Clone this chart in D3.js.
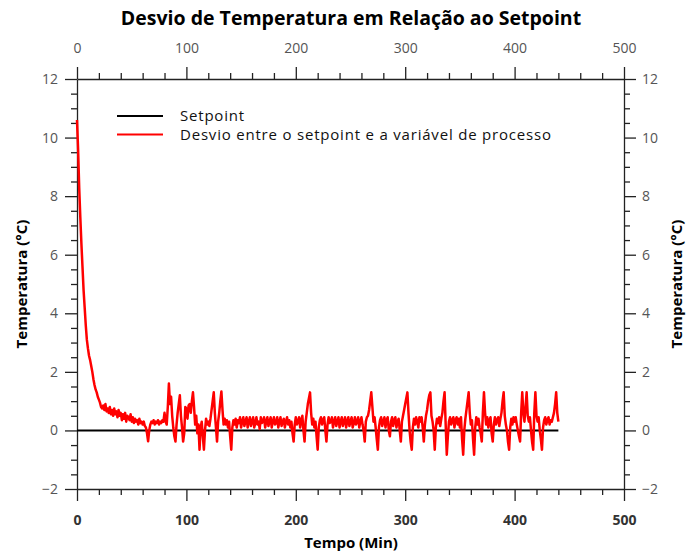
<!DOCTYPE html>
<html>
<head>
<meta charset="utf-8">
<script src="https://cdn.jsdelivr.net/npm/d3@7"></script>
<style>
    body { margin: 0; background: #fff; }
    svg { display: block; font-family: "Open Sans", sans-serif; }
</style>
</head>
<body>
<div id="chart"></div>
<script>
// desvio (°C), uma amostra por minuto
const desvio000 = [
    10.6, 9.6, 8.3, 7.3, 6.4, 5.6, 4.8, 4.2, 3.6, 3.1,
    2.8, 2.55, 2.4, 2.2, 2.0, 1.75, 1.55, 1.4, 1.3, 1.15,
    1.05, 0.95, 0.8, 0.75, 0.85, 0.7, 0.9, 0.65, 0.75, 0.6,
    0.8, 0.55, 0.7, 0.5, 0.75, 0.55, 0.65, 0.45, 0.7, 0.5,
    0.6, 0.35, 0.55, 0.4, 0.6, 0.3, 0.5, 0.45, 0.35, 0.55,
    0.3, 0.45, 0.25, 0.4, 0.3, 0.35, 0.2, 0.4, 0.25, 0.3
];
const desvio060 = [
    0.2, 0.3, 0.15, 0.1, -0.1, -0.37, 0.0, 0.2, 0.3, 0.25,
    0.35, 0.2, 0.3, 0.25, 0.35, 0.2, 0.3, 0.25, 0.35, 0.3,
    0.6, 0.3, 0.2, 0.8, 1.6, 0.9, 1.15, 0.5, 0.1, -0.2,
    -0.38, 0.2, 0.6, 0.9, 1.2, 0.5, 0.1, -0.38, -0.1, 0.8,
    0.75, 0.4, 0.85, 0.9, 0.6, 1.0, 1.3, 0.8, 0.2, 0.5,
    -0.1, 0.2, -0.66, 0.1, 0.3, -0.2, -0.66, 0.0, 0.4, 0.2
];
const desvio120 = [
    0.3, 0.15, 0.4, 0.7, 1.0, 1.3, 0.6, 0.1, -0.38, 0.3,
    0.6, 1.0, 1.33, 0.7, 0.2, 0.4, 0.2, 0.35, 0.1, 0.3,
    -0.2, -0.66, 0.1, 0.35, 0.2, 0.4, 0.1, 0.35, 0.25, 0.45,
    0.1, 0.3, 0.45, 0.15, 0.3, 0.45, 0.1, 0.3, 0.45, 0.15,
    0.3, 0.45, 0.1, 0.25, 0.45, 0.2, 0.3, 0.05, 0.45, 0.25,
    0.3, 0.45, 0.1, 0.3, 0.45, 0.15, 0.3, 0.45, 0.1, 0.3
];
const desvio180 = [
    0.45, 0.2, 0.25, 0.45, 0.1, 0.3, 0.45, 0.15, 0.3, 0.4,
    0.1, 0.3, 0.45, 0.2, 0.35, 0.1, 0.3, -0.1, -0.38, 0.2,
    0.45, 0.2, 0.3, 0.45, 0.1, 0.35, 0.5, 0.0, -0.38, 0.3,
    0.6, 0.9, 1.1, 1.3, 0.6, 0.2, 0.4, 0.1, 0.3, -0.2,
    -0.66, 0.1, 0.35, 0.45, 0.2, 0.35, 0.45, 0.0, -0.38, 0.2,
    0.45, 0.25, 0.3, 0.45, 0.1, 0.3, 0.45, 0.15, 0.3, 0.45
];
const desvio240 = [
    0.1, 0.3, 0.45, 0.15, 0.3, 0.45, 0.1, 0.3, 0.45, 0.15,
    0.3, 0.45, 0.1, 0.25, 0.45, 0.2, 0.3, 0.45, 0.1, 0.3,
    0.45, 0.2, 0.0, -0.38, 0.3, 0.45, 0.5, 0.7, 1.0, 1.3,
    0.8, 0.3, 0.45, 0.1, -0.3, -0.66, 0.1, 0.35, 0.45, 0.15,
    0.3, 0.45, 0.1, 0.35, 0.45, 0.0, -0.2, 0.3, 0.45, 0.15,
    0.35, 0.45, 0.1, 0.3, 0.4, 0.0, -0.38, 0.3, 0.5, 0.7
];
const desvio300 = [
    0.9, 1.1, 1.3, 0.6, 0.0, -0.4, -0.66, 0.1, 0.4, 0.2,
    0.45, 0.3, 0.1, 0.45, 0.3, 0.45, 0.1, -0.38, 0.2, 0.5,
    0.7, 1.0, 1.2, 1.3, 0.5, 0.3, 0.0, -0.66, 0.1, 0.4,
    0.25, 0.45, 0.15, 0.4, 0.6, 1.0, 1.3, 0.2, -0.83, -0.2,
    0.3, 0.45, 0.2, 0.35, 0.45, 0.1, 0.35, 0.45, 0.2, 0.4,
    0.1, 0.45, -0.3, -0.83, 0.0, 0.4, 0.7, 1.0, 1.3, 0.6
];
const desvio360 = [
    0.2, 0.35, -0.3, -0.83, 0.1, 0.45, 0.2, 0.4, 0.1, -0.1,
    -0.38, 0.6, 1.3, 0.6, 0.2, 0.45, 0.1, 0.35, 0.45, -0.1,
    -0.38, 0.2, 0.45, 0.2, 0.35, 0.45, 0.15, 0.4, 0.6, 1.0,
    1.3, 0.5, 0.2, 0.0, -0.4, -0.66, 0.1, 0.4, 0.2, 0.45,
    0.3, 0.45, 0.2, 0.0, -0.2, -0.38, 0.6, 1.3, 0.6, 0.3,
    0.8, 1.3, 0.5, 0.3, 0.45, 0.0, -0.4, -0.66, 0.6, 1.3
];
const desvio420 = [
    0.5, 0.3, 0.45, 0.0, -0.3, -0.66, 0.1, 0.35, 0.45, 0.2,
    0.35, 0.45, 0.2, 0.35, 0.3, 0.45, 0.6, 0.9, 1.3, 0.6,
    0.3
];
const intervaloMin = 1;

const setpointTempo = [0, 440];
const setpointValor = [0, 0];

const xTicks = [0, 100, 200, 300, 400, 500];
const yTicks = [-2, 0, 2, 4, 6, 8, 10, 12];
const legenda = ["Setpoint", "Desvio entre o setpoint e a variável de processo"];

const width = 686;
const height = 557;
const margin = { top: 79, right: 62, bottom: 68, left: 77 };

const desvio = [].concat(desvio000, desvio060, desvio120, desvio180,
    desvio240, desvio300, desvio360, desvio420);
const serie = desvio.map((v, i) => ({ t: i * intervaloMin, v: v }));
const setpoint = setpointTempo.map((t, i) => ({ t: t, v: setpointValor[i] }));

const x = d3.scaleLinear().domain([0, 500]).range([margin.left, width - margin.right]);
const y = d3.scaleLinear().domain([-2, 12]).range([height - margin.bottom, margin.top]);

const xMinor = d3.range(0, 501, 20).filter(d => d % 100 !== 0);
const yMinor = d3.range(-2, 12.01, 0.5).filter(d => d % 2 !== 0);

const svg = d3.select("#chart").append("svg")
    .attr("width", width)
    .attr("height", height);

// eixos
function eixo(gen, transform, ticks, minor, pad, cls) {
    const g = svg.append("g")
        .attr("class", cls)
        .attr("transform", transform)
        .call(gen.tickValues(ticks).tickSize(12).tickSizeOuter(0).tickPadding(pad));
    g.append("g").call(gen.tickValues(minor).tickSize(6).tickFormat(""))
        .select(".domain").remove();
    return g;
}

const gBottom = eixo(d3.axisBottom(x), `translate(0,${y(-2)})`, xTicks, xMinor, 14, "x-bottom");
const gTop = eixo(d3.axisTop(x), `translate(0,${y(12)})`, xTicks, xMinor, 14, "x-top");
const gLeft = eixo(d3.axisLeft(y), `translate(${x(0)},0)`, yTicks, yMinor, 7, "y-left");
const gRight = eixo(d3.axisRight(y), `translate(${x(500)},0)`, yTicks, yMinor, 6, "y-right");

svg.selectAll(".domain, .tick line")
    .attr("stroke", "#222")
    .attr("stroke-width", 1.3);
svg.selectAll(".tick text")
    .attr("font-family", "'Open Sans', sans-serif")
    .attr("font-size", 14)
    .attr("fill", "#555");
gBottom.selectAll(".tick text")
    .attr("font-weight", "bold")
    .attr("fill", "#333");

// linhas
const line = d3.line().x(d => x(d.t)).y(d => y(d.v));

svg.append("path")
    .datum(setpoint)
    .attr("fill", "none")
    .attr("stroke", "#000")
    .attr("stroke-width", 2)
    .attr("d", line);

svg.append("path")
    .datum(serie)
    .attr("fill", "none")
    .attr("stroke", "#ff0000")
    .attr("stroke-width", 2.5)
    .attr("stroke-linejoin", "round")
    .attr("d", line);

// legenda
const cores = ["#000", "#ff0000"];
const leg = svg.selectAll(".leg")
    .data(legenda)
    .enter().append("g")
    .attr("class", "leg")
    .attr("transform", (d, i) => `translate(117,${116 + i * 18.5})`);
leg.append("line")
    .attr("x1", 0).attr("x2", 46)
    .attr("stroke", (d, i) => cores[i])
    .attr("stroke-width", 2);
leg.append("text")
    .attr("x", 63)
    .attr("dy", "0.35em")
    .attr("font-size", 15)
    .attr("letter-spacing", 0.8)
    .attr("fill", "#111")
    .text(d => d);

// textos
svg.append("text")
    .attr("x", 351)
    .attr("y", 18)
    .attr("dy", "0.35em")
    .attr("text-anchor", "middle")
    .attr("font-size", 19.5)
    .attr("font-weight", "bold")
    .text("Desvio de Temperatura em Relação ao Setpoint");

svg.append("text")
    .attr("x", 351)
    .attr("y", 543)
    .attr("dy", "0.35em")
    .attr("text-anchor", "middle")
    .attr("font-size", 15)
    .attr("font-weight", "bold")
    .text("Tempo (Min)");

[22, 677].forEach(cx => {
    svg.append("text")
        .attr("transform", `translate(${cx},284) rotate(-90)`)
        .attr("dy", "0.35em")
        .attr("text-anchor", "middle")
        .attr("font-size", 15)
        .attr("font-weight", "bold")
        .text("Temperatura (°C)");
});
</script>
</body>
</html>
